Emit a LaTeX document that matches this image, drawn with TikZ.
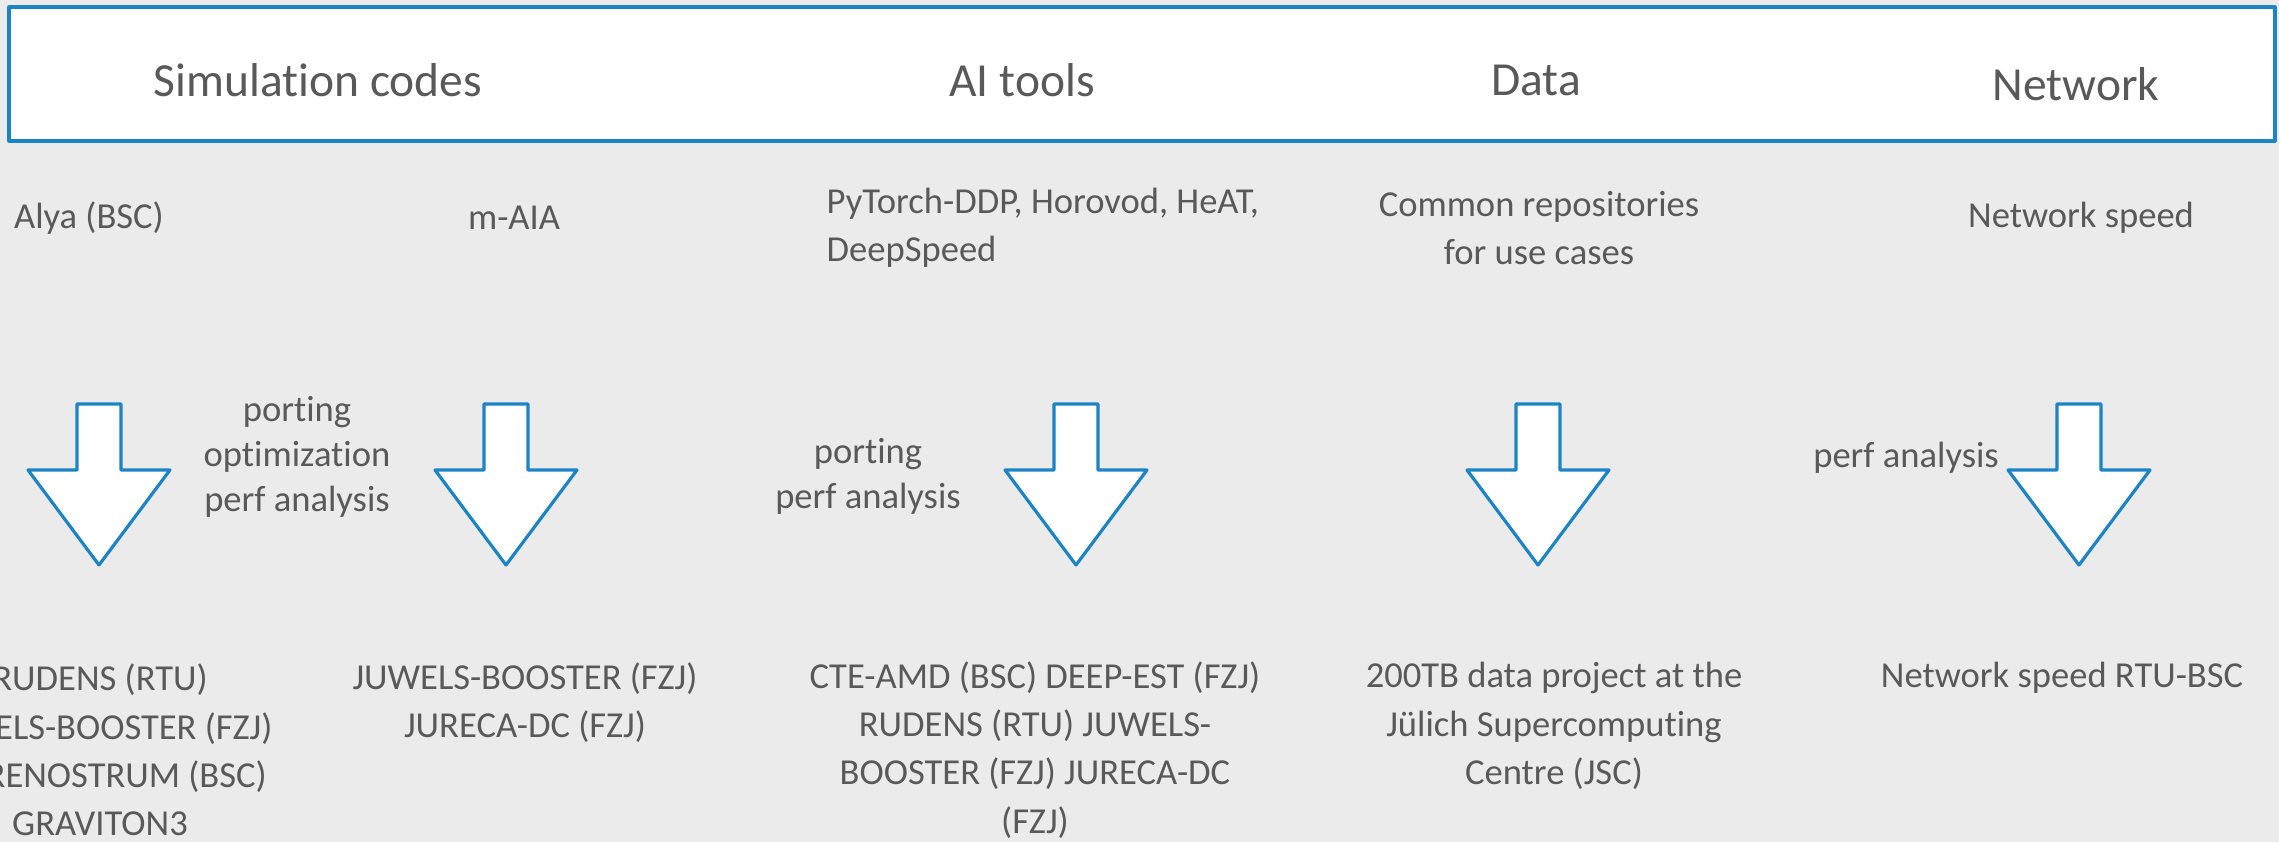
\documentclass[tikz,border=0pt]{standalone}
\usepackage{fontspec}
\setmainfont{Carlito}[Ligatures=NoCommon]
\usepackage{tikz}
\usetikzlibrary{calc}
\definecolor{ebebeb}{rgb}{0.922,0.922,0.922}
\definecolor{ffffff}{rgb}{1.,1.,1.}
\definecolor{ttqqss}{rgb}{0.106,0.518,0.776}
\definecolor{wwwwww}{rgb}{0.349,0.349,0.349}
\tikzstyle{every node}=[font=\fontsize{10.4}{13.7}\selectfont,color=wwwwww,inner sep=0pt]
\tikzstyle{headtxt}=[font=\fontsize{13.5}{16}\selectfont]
\tikzstyle{acttxt}=[align=center,font=\fontsize{10.4}{12.8}\selectfont]

\begin{document}
\begin{tikzpicture}[line cap=round,line join=round,x=0.01cm,y=-0.01cm]
    \useasboundingbox (0,0) rectangle (2279,842);
    \clip (0,0) rectangle (2279,842);
    \fill[color=ebebeb] (0,0) rectangle (2279,842);
    \draw [line width=0.9pt,color=ttqqss,fill=ffffff] (9,7) rectangle (2275,141);
    % block arrows
    \draw [line width=0.9pt,color=ttqqss,fill=ffffff] (77,404) -- (121,404) -- (121,470) -- (170,470) -- (99,565) -- (28,470) -- (77,470) -- cycle;
    \draw [line width=0.9pt,color=ttqqss,fill=ffffff] (484,404) -- (528,404) -- (528,470) -- (577,470) -- (506,565) -- (435,470) -- (484,470) -- cycle;
    \draw [line width=0.9pt,color=ttqqss,fill=ffffff] (1054,404) -- (1098,404) -- (1098,470) -- (1147,470) -- (1076,565) -- (1005,470) -- (1054,470) -- cycle;
    \draw [line width=0.9pt,color=ttqqss,fill=ffffff] (1516,404) -- (1560,404) -- (1560,470) -- (1609,470) -- (1538,565) -- (1467,470) -- (1516,470) -- cycle;
    \draw [line width=0.9pt,color=ttqqss,fill=ffffff] (2057,404) -- (2101,404) -- (2101,470) -- (2150,470) -- (2079,565) -- (2008,470) -- (2057,470) -- cycle;
    % headings
    \node[headtxt] (simcodes) at (318,80) {Simulation codes};
    \node[headtxt] (aitools) at (1022,80) {AI tools};
    \node[headtxt] (data) at (1536,80) {Data};
    \node[headtxt] (network) at (2076,84) {Network};
    % inputs
    \node (alya) at (89,218) {Alya (BSC)};
    \node (maia) at (514,218) {m-AIA};
    \node[anchor=west,align=left] (pytorch) at (826,228) {PyTorch-DDP, Horovod, HeAT,\\DeepSpeed};
    \node[align=center] (repos) at (1539,228) {Common repositories\\for use cases};
    \node (netspeed) at (2081,218) {Network speed};
    % actions
    \node[acttxt] (actsim) at (297,457) {porting\\optimization\\perf analysis};
    \node[acttxt] (actai) at (868,476) {porting\\perf analysis};
    \node (actnet) at (1906,458) {perf analysis};
    % outputs
    \node[align=center] (sysalya) at (100,750) {RUDENS (RTU)\\JUWELS-BOOSTER (FZJ)\\MARENOSTRUM (BSC)\\GRAVITON3};
    \node[align=center] (sysmaia) at (525,703) {JUWELS-BOOSTER (FZJ)\\JURECA-DC (FZJ)};
    \node[align=center] (sysai) at (1035,750) {CTE-AMD (BSC) DEEP-EST (FZJ)\\RUDENS (RTU) JUWELS-\\BOOSTER (FZJ) JURECA-DC\\(FZJ)};
    \node[align=center] (sysdata) at (1554,726) {200TB data project at the\\J\"ulich Supercomputing\\Centre (JSC)};
    \node (sysnet) at (2062,678) {Network speed RTU-BSC};
\end{tikzpicture}
\end{document}
